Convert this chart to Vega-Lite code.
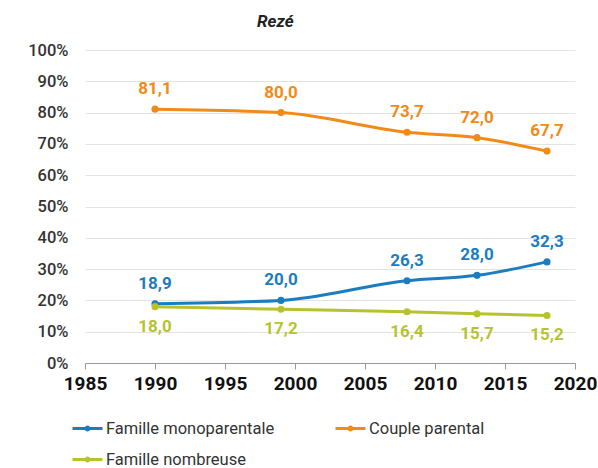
{
  "$schema": "https://vega.github.io/schema/vega-lite/v6.json",
  "width": 490,
  "height": 313,
  "autosize": {"type": "none"},
  "padding": {"left": 85, "top": 50, "right": 23, "bottom": 105},
  "background": "white",
  "title": {
    "text": "Rezé",
    "anchor": "start",
    "frame": "group",
    "dx": 172,
    "offset": 11,
    "font": "Roboto",
    "fontSize": 17,
    "fontWeight": "bold",
    "fontStyle": "italic",
    "color": "#222222"
  },
  "data": {
    "values": [
      {"annee": 1990, "serie": "Couple parental", "valeur": 81.1, "label": "81,1"},
      {"annee": 1999, "serie": "Couple parental", "valeur": 80.0, "label": "80,0"},
      {"annee": 2008, "serie": "Couple parental", "valeur": 73.7, "label": "73,7"},
      {"annee": 2013, "serie": "Couple parental", "valeur": 72.0, "label": "72,0"},
      {"annee": 2018, "serie": "Couple parental", "valeur": 67.7, "label": "67,7"},
      {"annee": 1990, "serie": "Famille monoparentale", "valeur": 18.9, "label": "18,9"},
      {"annee": 1999, "serie": "Famille monoparentale", "valeur": 20.0, "label": "20,0"},
      {"annee": 2008, "serie": "Famille monoparentale", "valeur": 26.3, "label": "26,3"},
      {"annee": 2013, "serie": "Famille monoparentale", "valeur": 28.0, "label": "28,0"},
      {"annee": 2018, "serie": "Famille monoparentale", "valeur": 32.3, "label": "32,3"},
      {"annee": 1990, "serie": "Famille nombreuse", "valeur": 18.0, "label": "18,0"},
      {"annee": 1999, "serie": "Famille nombreuse", "valeur": 17.2, "label": "17,2"},
      {"annee": 2008, "serie": "Famille nombreuse", "valeur": 16.4, "label": "16,4"},
      {"annee": 2013, "serie": "Famille nombreuse", "valeur": 15.7, "label": "15,7"},
      {"annee": 2018, "serie": "Famille nombreuse", "valeur": 15.2, "label": "15,2"}
    ]
  },
  "encoding": {
    "x": {
      "field": "annee",
      "type": "quantitative",
      "scale": {"domain": [1985, 2020], "nice": false, "zero": false},
      "axis": {
        "title": null,
        "values": [1985, 1990, 1995, 2000, 2005, 2010, 2015, 2020],
        "format": "d",
        "grid": false,
        "labelFlush": false,
        "labelOverlap": false,
        "domainColor": "#999999",
        "tickColor": "#999999",
        "tickSize": 6,
        "labelFont": "Roboto",
        "labelFontSize": 19,
        "labelFontWeight": "bold",
        "labelColor": "#111111",
        "labelPadding": 5
      }
    },
    "y": {
      "field": "valeur",
      "type": "quantitative",
      "scale": {"domain": [0, 100], "nice": false},
      "axis": {
        "title": null,
        "values": [0, 10, 20, 30, 40, 50, 60, 70, 80, 90, 100],
        "labelExpr": "datum.value + '%'",
        "domain": false,
        "ticks": false,
        "gridColor": "#e3e3e3",
        "gridWidth": 1,
        "labelFont": "Roboto",
        "labelFontSize": 16.5,
        "labelFontWeight": 500,
        "labelColor": "#333333",
        "labelPadding": 17
      }
    },
    "color": {
      "field": "serie",
      "type": "nominal",
      "scale": {
        "domain": ["Famille monoparentale", "Couple parental", "Famille nombreuse"],
        "range": ["#1b7dc0", "#f28a17", "#b7c32d"]
      },
      "legend": {
        "title": null,
        "orient": "none",
        "legendX": -14,
        "legendY": 362,
        "direction": "horizontal",
        "columns": 2,
        "columnPadding": 54,
        "rowPadding": 6,
        "symbolType": "M-1,0H1M-0.1,0A0.1,0.1,0,1,1,0.1,0A0.1,0.1,0,1,1,-0.1,0",
        "symbolStrokeWidth": 3,
        "symbolSize": 900,
        "labelFont": "Roboto",
        "labelFontSize": 16.5,
        "labelLimit": 400,
        "labelColor": "#333333",
        "labelOffset": 2
      }
    }
  },
  "layer": [
    {
      "mark": {"type": "line", "interpolate": "monotone", "strokeWidth": 3}
    },
    {
      "mark": {"type": "point", "filled": true, "size": 50, "opacity": 1}
    },
    {
      "transform": [{"filter": "datum.serie !== 'Famille nombreuse'"}],
      "mark": {"type": "text", "dy": -20, "font": "Roboto", "fontSize": 17, "fontWeight": "bold"},
      "encoding": {"text": {"field": "label"}}
    },
    {
      "transform": [{"filter": "datum.serie === 'Famille nombreuse'"}],
      "mark": {"type": "text", "dy": 20, "font": "Roboto", "fontSize": 17, "fontWeight": "bold"},
      "encoding": {"text": {"field": "label"}}
    }
  ],
  "config": {"view": {"stroke": null}}
}
